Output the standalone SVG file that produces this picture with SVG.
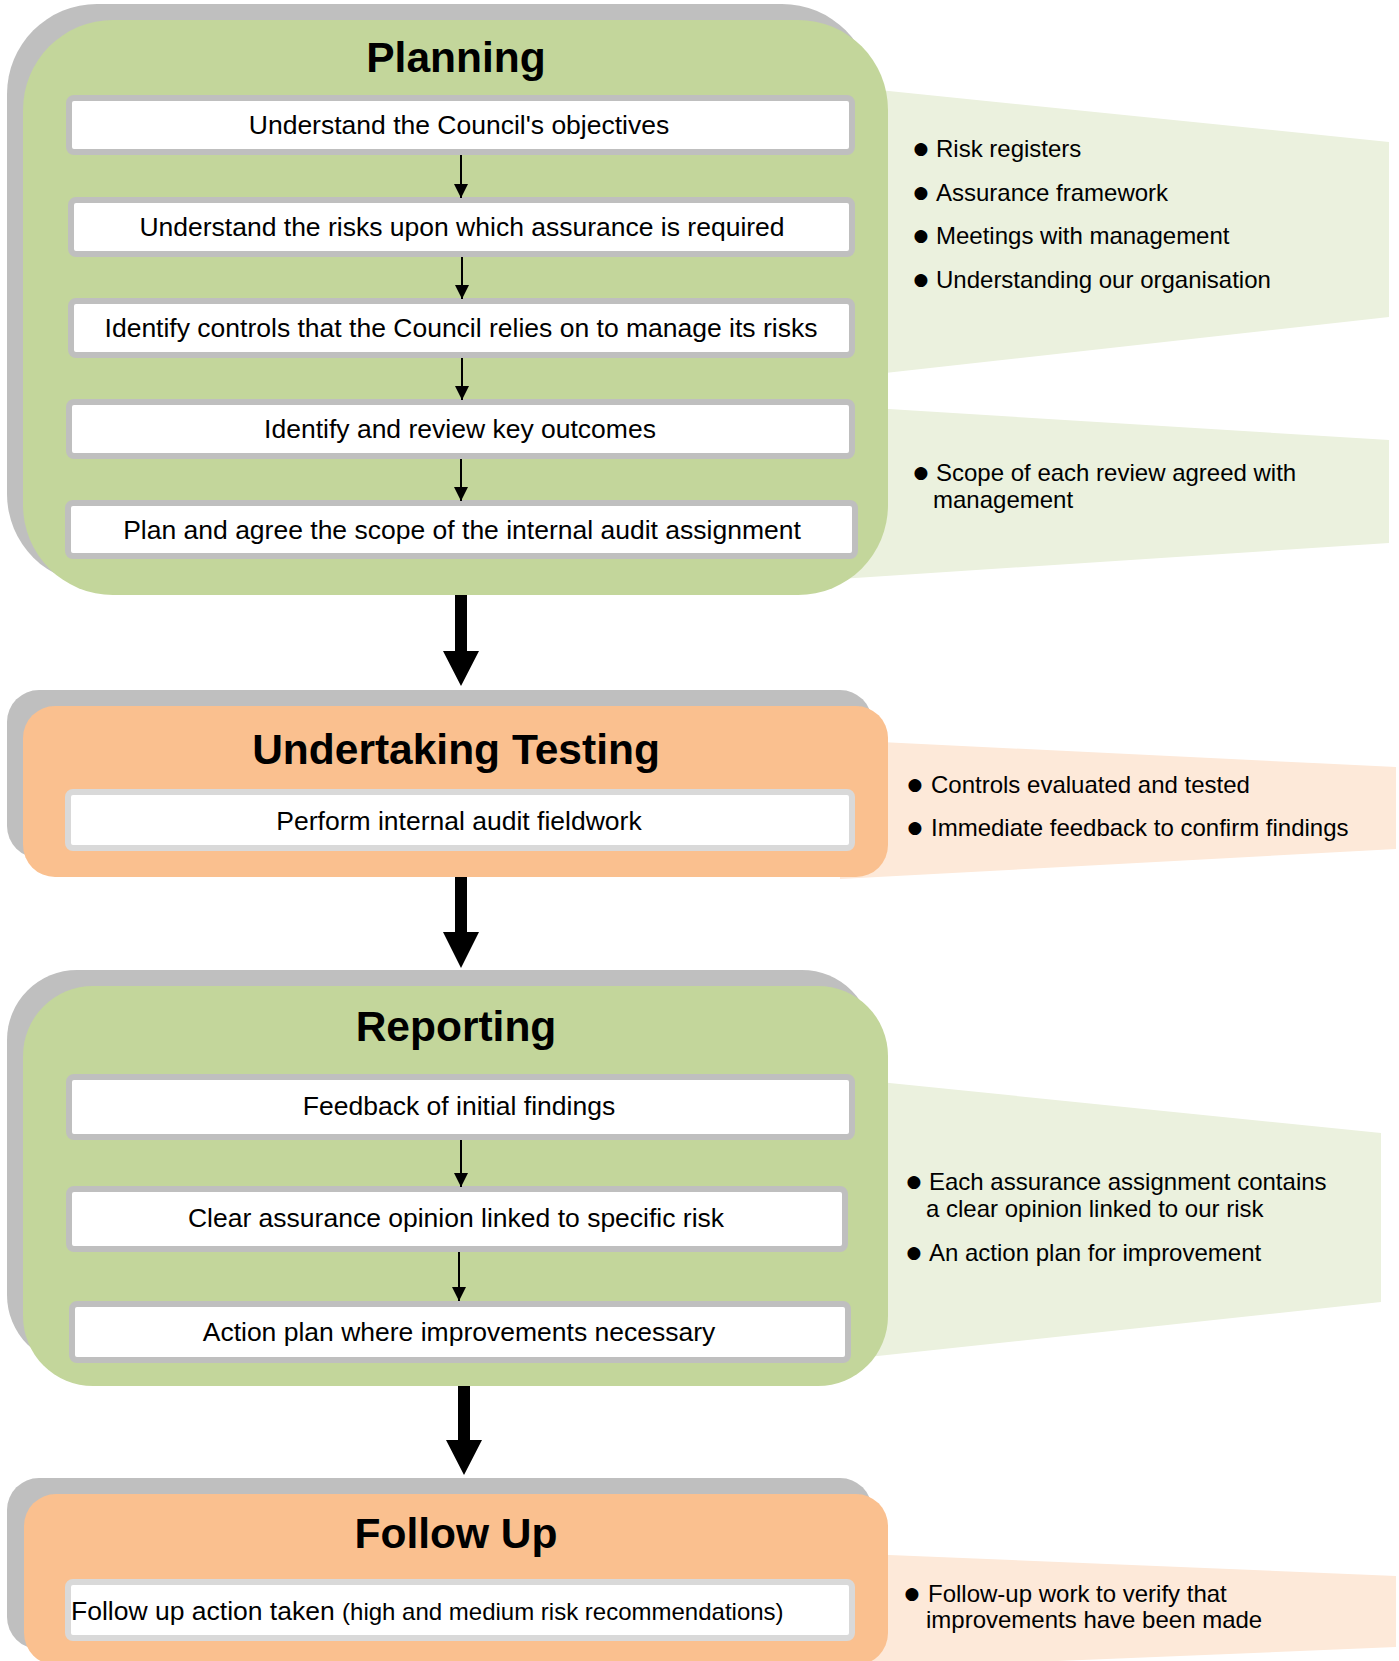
<svg xmlns="http://www.w3.org/2000/svg" width="1399" height="1661" viewBox="0 0 1399 1661">
<style>
text{font-family:"Liberation Sans",Arial,sans-serif;fill:#000}
.title{font-size:42.5px;font-weight:bold;text-anchor:middle}
.step{font-size:26.5px;text-anchor:middle}
.bul{font-size:24px}
.dot{font-family:"DejaVu Sans",sans-serif;font-size:17px;text-anchor:middle}
.shadow{fill:#bfbfbf}
.green{fill:#c3d69b}
.orange{fill:#fac08f}
.calG{fill:#ebf1de}
.calO{fill:#fde9d9}
.boxA{fill:#fff;stroke:#bfbfbf;stroke-width:6}
.boxB{fill:#fff;stroke:#d9d9d9;stroke-width:6}
.thin{stroke:#000;stroke-width:2;fill:none;marker-end:url(#ah)}
.big{fill:#000}
</style>
<defs>
<marker id="ah" viewBox="0 0 10 10" refX="10" refY="5" markerWidth="14" markerHeight="14" markerUnits="userSpaceOnUse" orient="auto">
<path d="M0,0 L10,5 L0,10 z" fill="#000"/>
</marker>
</defs>

<g id="callout-planning-1">
<polygon class="calG" points="840,86 1389,142 1389,317 840,378"/>
<text class="dot" x="921" y="154">●</text><text class="bul" x="936" y="157">Risk registers</text>
<text class="dot" x="921" y="197.5">●</text><text class="bul" x="936" y="200.5">Assurance framework</text>
<text class="dot" x="921" y="241">●</text><text class="bul" x="936" y="244">Meetings with management</text>
<text class="dot" x="921" y="284.5">●</text><text class="bul" x="936" y="287.5">Understanding our organisation</text>
</g>
<g id="callout-planning-2">
<polygon class="calG" points="840,406 1389,440 1389,543 840,579"/>
<text class="dot" x="921" y="478">●</text><text class="bul" x="936" y="481">Scope of each review agreed with</text>
<text class="bul" x="933" y="508">management</text>
</g>
<g id="callout-testing">
<polygon class="calO" points="840,740 1396,767 1396,849 840,879"/>
<text class="dot" x="915" y="790">●</text><text class="bul" x="931" y="793">Controls evaluated and tested</text>
<text class="dot" x="915" y="833">●</text><text class="bul" x="931" y="836">Immediate feedback to confirm findings</text>
</g>
<g id="callout-reporting">
<polygon class="calG" points="840,1078 1381,1133 1381,1302 840,1360"/>
<text class="dot" x="914" y="1187">●</text><text class="bul" x="929" y="1190">Each assurance assignment contains</text>
<text class="bul" x="926" y="1217">a clear opinion linked to our risk</text>
<text class="dot" x="914" y="1258">●</text><text class="bul" x="929" y="1261">An action plan for improvement</text>
</g>
<g id="callout-followup">
<polygon class="calO" points="840,1553 1396,1576 1396,1647 840,1670"/>
<text class="dot" x="912" y="1599">●</text><text class="bul" x="928" y="1602">Follow-up work to verify that</text>
<text class="bul" x="926" y="1628">improvements have been made</text>
</g>

<g id="stage-planning">
<rect class="shadow" x="7" y="4" width="865" height="580" rx="90"/>
<rect class="green" x="23" y="20" width="865" height="575" rx="90"/>
<text class="title" x="456" y="72">Planning</text>
</g>
<g id="stage-testing">
<rect class="shadow" x="7" y="690" width="865" height="168" rx="32"/>
<rect class="orange" x="23" y="706" width="865" height="171" rx="32"/>
<text class="title" x="456" y="764">Undertaking Testing</text>
</g>
<g id="stage-reporting">
<rect class="shadow" x="7" y="970" width="865" height="395" rx="70"/>
<rect class="green" x="23" y="986" width="865" height="400" rx="70"/>
<text class="title" x="456" y="1041">Reporting</text>
</g>
<g id="stage-followup">
<rect class="shadow" x="7" y="1478" width="865" height="171" rx="32"/>
<rect class="orange" x="24" y="1494" width="864" height="171" rx="32"/>
<text class="title" x="456" y="1548">Follow Up</text>
</g>

<g id="step-p1"><rect class="boxA" x="69" y="98" width="783" height="54" rx="5"/><text class="step" x="459" y="134">Understand the Council's objectives</text></g>
<g id="step-p2"><rect class="boxA" x="71" y="200" width="781" height="54" rx="5"/><text class="step" x="462" y="236">Understand the risks upon which assurance is required</text></g>
<g id="step-p3"><rect class="boxA" x="71" y="301" width="781" height="54" rx="5"/><text class="step" x="461" y="337">Identify controls that the Council relies on to manage its risks</text></g>
<g id="step-p4"><rect class="boxA" x="69" y="402" width="783" height="54" rx="5"/><text class="step" x="460" y="438">Identify and review key outcomes</text></g>
<g id="step-p5"><rect class="boxA" x="68" y="503" width="787" height="53" rx="5"/><text class="step" x="462" y="538.5">Plan and agree the scope of the internal audit assignment</text></g>
<g id="step-t1"><rect class="boxB" x="68" y="792" width="784" height="56" rx="5"/><text class="step" x="459" y="830">Perform internal audit fieldwork</text></g>
<g id="step-r1"><rect class="boxA" x="69" y="1077" width="783" height="60" rx="5"/><text class="step" x="459" y="1115">Feedback of initial findings</text></g>
<g id="step-r2"><rect class="boxA" x="69" y="1189" width="776" height="60" rx="5"/><text class="step" x="456" y="1227">Clear assurance opinion linked to specific risk</text></g>
<g id="step-r3"><rect class="boxA" x="72" y="1304" width="776" height="56" rx="5"/><text class="step" x="459" y="1341">Action plan where improvements necessary</text></g>
<g id="step-f1"><rect class="boxB" x="68" y="1582" width="784" height="56" rx="5"/><text x="71" y="1620" font-size="26.5">Follow up action taken <tspan font-size="24">(high and medium risk recommendations)</tspan></text></g>

<g id="connectors">
<line class="thin" x1="461" y1="155" x2="461" y2="198"/>
<line class="thin" x1="462" y1="257" x2="462" y2="299"/>
<line class="thin" x1="462" y1="358" x2="462" y2="400"/>
<line class="thin" x1="461" y1="459" x2="461" y2="501"/>
<line class="thin" x1="461" y1="1140" x2="461" y2="1187"/>
<line class="thin" x1="459" y1="1252" x2="459" y2="1301"/>
<path class="big" d="M455,595 H467 V651 H479 L461,686 L443,651 H455 Z"/>
<path class="big" d="M455,877 H467 V932 H479 L461,968 L443,932 H455 Z"/>
<path class="big" d="M458,1386 H470 V1440 H482 L464,1475 L446,1440 H458 Z"/>
</g>
</svg>
